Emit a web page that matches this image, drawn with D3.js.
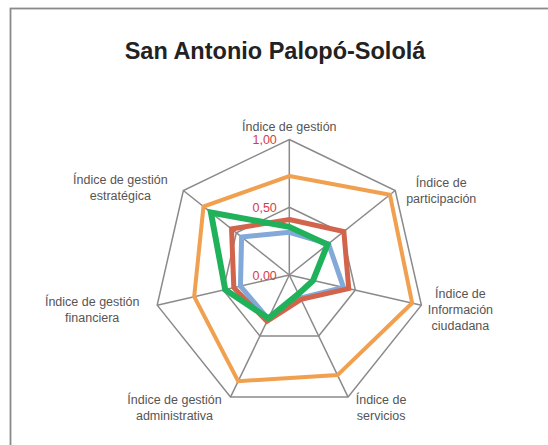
<!DOCTYPE html>
<html lang="es">
<head>
<meta charset="utf-8">
<title>San Antonio Palopó-Sololá</title>
<script src="https://cdn.jsdelivr.net/npm/d3@7"></script>
<style>
  body { margin: 0; background: #fff; }
  svg { display: block; font-family: "Liberation Sans", Arial, sans-serif; }
  .grid { fill: none; stroke: #8a8a8a; stroke-width: 1.5; }
  .axis-label { fill: #555; font-size: 12.5px; }
  .tick-label { fill: #d63c46; font-size: 12.5px; }
</style>
</head>
<body>
<div id="chart"></div>
<script>
// datos
var categories = [
  ["Índice de gestión"],
  ["Índice de", "participación"],
  ["Índice de", "Información", "ciudadana"],
  ["Índice de", "servicios"],
  ["Índice de gestión", "administrativa"],
  ["Índice de gestión", "financiera"],
  ["Índice de gestión", "estratégica"]
];
var serieNaranja = [0.73, 0.95, 0.93, 0.82, 0.87, 0.72, 0.81];
var serieAzul    = [0.315, 0.37, 0.41, 0.19, 0.36, 0.37, 0.45];
var serieRoja    = [0.41, 0.515, 0.45, 0.20, 0.38, 0.42, 0.545];
var serieVerde   = [0.355, 0.36, 0.18, 0.155, 0.355, 0.485, 0.74];
var ticks = [0, 0.5, 1];
var tickLabels = ["0,00", "0,50", "1,00"];

var width = 548, height = 445;
var cx = 289.3, cy = 275, R = 135.5;

var svg = d3.select("#chart").append("svg")
    .attr("width", width)
    .attr("height", height);

// marco
svg.append("rect")
    .attr("x", 10.5).attr("y", 8.5)
    .attr("width", 545).attr("height", 460)
    .attr("fill", "#fff")
    .attr("stroke", "#8a8a8a")
    .attr("stroke-width", 1.8);

svg.append("text")
    .attr("x", 275).attr("y", 59)
    .attr("text-anchor", "middle")
    .attr("font-size", "23.5px")
    .attr("font-weight", "bold")
    .attr("fill", "#222")
    .text("San Antonio Palopó-Sololá");

var n = categories.length;
var r = d3.scaleLinear().domain([0, 1]).range([0, R]);
var angle = function(i) { return i * 2 * Math.PI / n; };
function pt(i, v) {
  return [cx + r(v) * Math.sin(angle(i)), cy - r(v) * Math.cos(angle(i))];
}

var g = svg.append("g");

// anillos
ticks.filter(function(t) { return t > 0; }).forEach(function(t) {
  g.append("path")
      .attr("class", "grid")
      .attr("d", d3.line()(d3.range(n).map(function(i) { return pt(i, t); })) + "Z");
});

// radios
d3.range(n).forEach(function(i) {
  var p = pt(i, 1);
  g.append("line")
      .attr("class", "grid")
      .attr("x1", cx).attr("y1", cy)
      .attr("x2", p[0]).attr("y2", p[1]);
});

// series
var radial = d3.lineRadial()
    .angle(function(d, i) { return angle(i); })
    .radius(function(d) { return r(d); })
    .curve(d3.curveLinearClosed);

var series = [
  {values: serieAzul,    color: "#83a9d8", w: 5},
  {values: serieRoja,    color: "#d2644c", w: 5},
  {values: serieNaranja, color: "#f0a04f", w: 4},
  {values: serieVerde,   color: "#1fb25a", w: 6}
];

series.forEach(function(s) {
  g.append("path")
      .attr("transform", "translate(" + cx + "," + cy + ")")
      .attr("d", radial(s.values))
      .attr("fill", "none")
      .attr("stroke", s.color)
      .attr("stroke-width", s.w)
      .attr("stroke-linejoin", "miter");
});

// etiquetas de eje
var labelOffsets = [[0, -9], [46, -3.5], [39, -7], [33, 7], [-56, 7], [-65, 1], [-63, -6.5]];
var lineH = 16;

categories.forEach(function(lines, i) {
  var p = pt(i, 1);
  var t = svg.append("text")
      .attr("class", "axis-label")
      .attr("text-anchor", "middle");
  lines.forEach(function(l, k) {
    t.append("tspan")
        .attr("x", p[0] + labelOffsets[i][0])
        .attr("y", p[1] + labelOffsets[i][1] + k * lineH)
        .text(l);
  });
});

// etiquetas de valor
ticks.forEach(function(t, k) {
  svg.append("text")
      .attr("class", "tick-label")
      .attr("x", cx - 12.5)
      .attr("y", cy - r(t) + 4.5)
      .attr("text-anchor", "end")
      .text(tickLabels[k]);
});
</script>
</body>
</html>
